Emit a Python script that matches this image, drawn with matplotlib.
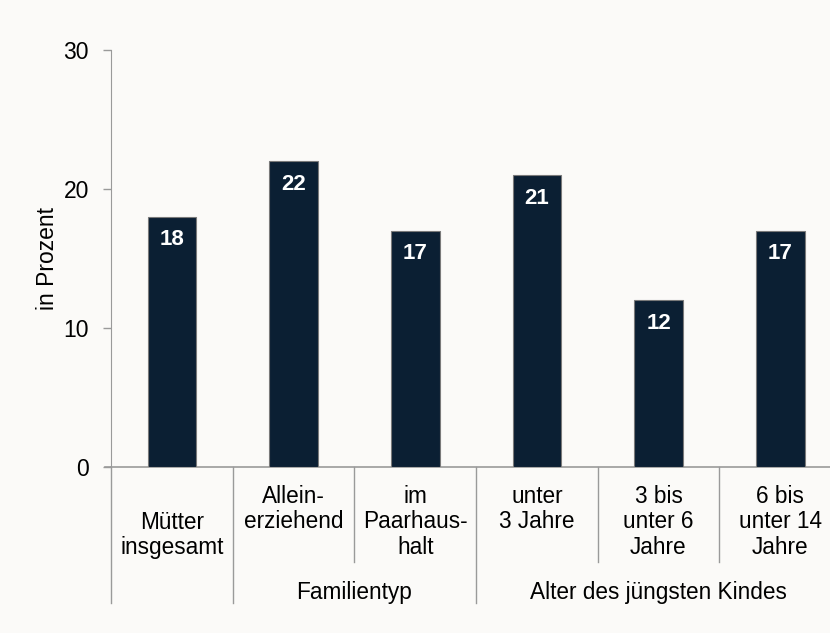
import matplotlib
matplotlib.use("Agg")
import matplotlib.pyplot as plt

plt.rcParams['font.family'] = ['Liberation Sans', 'DejaVu Sans']

# Daten
categories = ["Mütter\ninsgesamt", "Allein-\nerziehend", "im\nPaarhaus-\nhalt",
              "unter\n3 Jahre", "3 bis\nunter 6\nJahre", "6 bis\nunter 14\nJahre"]
values = [18, 22, 17, 21, 12, 17]
groups = ["Familientyp", "Alter des jüngsten Kindes"]
group_spans = [(1, 2), (3, 5)]
yticks = [0, 10, 20, 30]

bg = "#fbfaf8"
bar_color = "#0b1f33"
line_color = "#9a9a9a"
fs = 16.3

W, H = 830, 633
fig = plt.figure(figsize=(W / 100, H / 100), dpi=100, facecolor=bg)
left, right, top, bottom = 111, 841, 50, 467
ax = fig.add_axes([left / W, 1 - bottom / H, (right - left) / W, (bottom - top) / H])
ax.set_facecolor(bg)

x = list(range(len(values)))
ax.bar(x, values, width=0.40, color=bar_color, edgecolor="#7a7a7a", linewidth=0.8, zorder=3)
for xi, v in zip(x, values):
    ax.annotate(str(v), (xi, v), xytext=(0, -23), textcoords="offset pixels",
                ha="center", va="center", color="white", fontsize=16, fontweight="bold", zorder=4)

ax.set_xlim(-0.5, len(values) - 0.5)
ax.set_ylim(0, 30)
ax.set_yticks(yticks)
ax.tick_params(axis="y", length=6, width=1, color=line_color, pad=10, labelsize=16.5)
ax.set_xticks([])
for s in ["top", "right"]:
    ax.spines[s].set_visible(False)
ax.spines["left"].set_color(line_color)
ax.spines["bottom"].set_color(line_color)
ax.spines["bottom"].set_linewidth(1.2)
ax.set_ylabel("in Prozent", fontsize=16.5, labelpad=3)

trans = ax.get_xaxis_transform()
h_ax = bottom - top
def fy(py):
    return (bottom - py) / h_ax

# Achsenstrich links der Null
ax.plot([-0.5 - 6 / 121.7, -0.5], [0, 0], transform=trans, color=line_color, lw=1.2, clip_on=False)

# Trennlinien der Kategorienbeschriftung
inner_y, outer_y = fy(562), fy(603)
group_edges = [-0.5, 0.5, 2.5, 5.5]
for xe in [i - 0.5 for i in range(len(values) + 1)]:
    yb = outer_y if xe in group_edges else inner_y
    ax.plot([xe, xe], [0, yb], transform=trans, color=line_color, lw=1, clip_on=False)

for xi, lab in zip(x, categories):
    if xi == 0:
        ax.text(xi, fy(535), lab, transform=trans, ha="center", va="center",
                fontsize=fs, linespacing=1.13)
    else:
        ax.text(xi, fy(485), lab, transform=trans, ha="center", va="top",
                fontsize=fs, linespacing=1.13)

for g, (a, b) in zip(groups, group_spans):
    ax.text((a + b) / 2, fy(592), g, transform=trans, ha="center", va="center", fontsize=fs)

fig.savefig("out.png", dpi=100, facecolor=bg)
